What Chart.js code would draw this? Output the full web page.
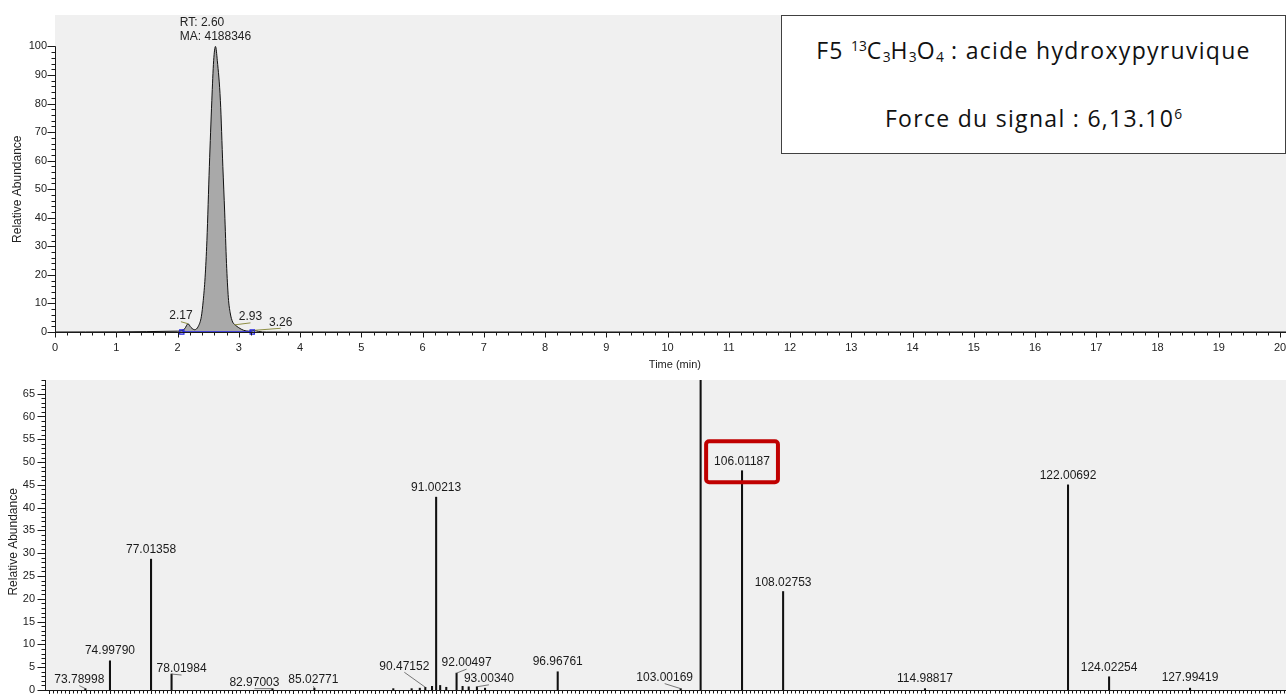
<!DOCTYPE html>
<html lang="fr">
<head>
<meta charset="utf-8">
<title>F5 acide hydroxypyruvique</title>
<script src="https://cdn.jsdelivr.net/npm/chart.js@4.4.1/dist/chart.umd.min.js"></script>
<style>
  html, body { margin: 0; padding: 0; background: #fff; width: 1286px; height: 694px; overflow: hidden; }
  #rtChart { position: absolute; left: 0; top: 0; }
  #msChart { position: absolute; left: 0; top: 375px; }
  .info {
    position: absolute; left: 781px; top: 15px; width: 505px; height: 139px;
    box-sizing: border-box; border: 1px solid #404040; background: #fff;
    font-family: "Open Sans", Lato, sans-serif; font-size: 23px; letter-spacing: 1.3px; color: #111;
  }
  .info div { position: absolute; left: 0; right: 0; text-align: center; line-height: 30px; white-space: nowrap; }
  .info .l1 { top: 19px; }
  .info .l2 { top: 87px; }
  .info sup, .info sub { font-size: 0.6em; line-height: 0; letter-spacing: 0; }
  .info sup { vertical-align: 0.6em; }
  .info sub { vertical-align: -0.25em; }
</style>
</head>
<body>
<canvas id="rtChart" width="1300" height="375"></canvas>
<canvas id="msChart" width="1300" height="330"></canvas>
<div class="info">
  <div class="l1">F5 <sup>13</sup>C<sub>3</sub>H<sub>3</sub>O<sub>4</sub> : acide hydroxypyruvique</div>
  <div class="l2">Force du signal : 6,13.10<sup>6</sup></div>
</div>
<script>
// chromatogram: time (min) vs relative abundance (%)
const rtTimes = [0, 2.0, 2.07, 2.12, 2.17, 2.22, 2.28, 2.34, 2.39, 2.42, 2.45, 2.48, 2.52, 2.56, 2.59, 2.62,
  2.65, 2.70, 2.74, 2.77, 2.80, 2.83, 2.86, 2.90, 2.94, 3.00, 3.08, 3.16, 3.22, 3.26, 3.32, 3.45, 20.3];
const rtAbundance = [0, 0.3, 0.5, 1.2, 2.9, 1.6, 0.8, 2.0, 5.5, 11, 19, 32, 58, 81, 95, 100,
  95, 81, 58, 42, 24, 12, 6.7, 3.5, 2.5, 1.5, 0.6, 0.3, 0.4, 0.6, 0.2, 0, 0];
const rtApexTime = 2.62;
const rtApexText = ["RT: 2.60", "MA: 4188346"];
const rtMinorPeaks = [2.17, 2.93, 3.26];
const rtMinorDx = [-7, 16, 26];
const rtBaseline = [2.07, 3.22];
const rtXTicks = [0, 1, 2, 3, 4, 5, 6, 7, 8, 9, 10, 11, 12, 13, 14, 15, 16, 17, 18, 19, 20];
const rtYTicks = [0, 10, 20, 30, 40, 50, 60, 70, 80, 90, 100];

// mass spectrum: m/z vs relative abundance (%)
const msMz = [73.78998, 74.99790, 77.01358, 78.01984, 82.97003, 85.02771, 88.9, 89.8, 90.2, 90.47152, 90.8,
  91.00213, 91.2, 91.5, 92.00497, 92.3, 92.6, 93.00340, 93.4, 96.96761, 103.00169, 103.98, 106.01187,
  108.02753, 114.98817, 122.00692, 124.02254, 127.99419];
const msAbundance = [0.3, 6.4, 28.7, 3.5, 0.3, 0.4, 0.3, 0.3, 0.4, 0.6, 0.8,
  42.3, 1.0, 0.6, 3.7, 0.8, 0.7, 0.7, 0.4, 4.0, 0.3, 100, 48.1,
  21.6, 0.3, 45.0, 2.9, 0.4];
const msLabelled = [73.78998, 74.99790, 77.01358, 78.01984, 82.97003, 85.02771, 90.47152, 91.00213, 92.00497,
  93.00340, 96.96761, 103.00169, 106.01187, 108.02753, 114.98817, 122.00692, 124.02254, 127.99419];
const msLabelDx = [-6, 0, 0, 10, -18, -1, -21, 0, 10, 12, 0, -16, 0, 0, 0, 0, 0, 0];
const msLabelDy = [-9, -10, -9, -5, -6, -8, -21, -9, -10, -8, -10, -11, -9, -9, -10, -9, -9, -10];
const msHighlight = 106.01187;
const msYTicks = [0, 5, 10, 15, 20, 25, 30, 35, 40, 45, 50, 55, 60, 65];

const FONT = '"Liberation Sans", Arial, sans-serif';
Chart.defaults.font.family = FONT;
Chart.defaults.font.size = 11;
Chart.defaults.color = "#222";

// fixed axis box, no extra label padding from the layout
function fixBox(size) {
  return (s) => {
    if (s.isHorizontal()) s.height = size; else s.width = size;
    s.paddingTop = 0; s.paddingBottom = 0; s.paddingLeft = 0; s.paddingRight = 0;
  };
}

// grey plot area
const plotBg = {
  id: "plotBg",
  beforeDraw(chart) {
    const { ctx, chartArea: a } = chart;
    ctx.save();
    ctx.fillStyle = "#f0f0f0";
    ctx.fillRect(a.left, a.top, a.right - a.left, a.bottom - a.top);
    ctx.restore();
  },
};

// axis lines, major/minor tick marks and rotated y title
const axesPlugin = {
  id: "axes",
  afterDatasetsDraw(chart, args, o) {
    const { ctx, chartArea: a, scales: { x, y } } = chart;
    ctx.save();
    ctx.strokeStyle = "#1a1a1a";
    ctx.lineWidth = 1;
    ctx.beginPath();
    const yb = Math.round(a.bottom) + 0.5;
    const xl = Math.round(a.left) + 0.5;
    ctx.moveTo(a.left, yb);
    ctx.lineTo(a.right, yb);
    ctx.moveTo(xl, yb);
    ctx.lineTo(xl, y.getPixelForValue(o.yTop));
    for (let i = Math.ceil(x.min / o.xMinor - 1e-6); i * o.xMinor <= x.max; i++) {
      const px = Math.round(x.getPixelForValue(i * o.xMinor)) + 0.5;
      const len = i % o.xEvery === 0 ? o.xMajorLen : o.xMinorLen;
      ctx.moveTo(px, yb);
      ctx.lineTo(px, yb + len);
    }
    for (let i = 0; i * o.yMinor <= o.yTop; i++) {
      const py = Math.round(y.getPixelForValue(i * o.yMinor)) + 0.5;
      const len = i % o.yEvery === 0 ? o.yMajorLen : o.yMinorLen;
      ctx.moveTo(xl, py);
      ctx.lineTo(xl - len, py);
    }
    ctx.stroke();

    ctx.translate(o.titleX, (y.getPixelForValue(0) + y.getPixelForValue(o.titleTop)) / 2);
    ctx.rotate(-Math.PI / 2);
    ctx.font = "12px " + FONT;
    ctx.fillStyle = "#222";
    ctx.textAlign = "center";
    ctx.textBaseline = "middle";
    ctx.fillText("Relative Abundance", 0, 0);
    ctx.restore();
  },
};

function rtValueAt(t) {
  let best = 0;
  rtTimes.forEach((v, i) => { if (Math.abs(v - t) < Math.abs(rtTimes[best] - t)) best = i; });
  return rtAbundance[best];
}

const rtLabels = {
  id: "rtLabels",
  afterDatasetsDraw(chart) {
    const { ctx, scales: { x, y } } = chart;
    ctx.save();
    ctx.font = "12px " + FONT;
    ctx.fillStyle = "#222";
    ctx.textBaseline = "middle";

    const ax = x.getPixelForValue(rtApexTime);
    const ay = y.getPixelForValue(rtValueAt(rtApexTime));
    const w = Math.max(...rtApexText.map((t) => ctx.measureText(t).width));
    ctx.textAlign = "left";
    rtApexText.forEach((t, i) => {
      ctx.fillText(t, ax - w / 2, ay - 10 - (rtApexText.length - 1 - i) * 13.7);
    });

    ctx.textAlign = "center";
    rtMinorPeaks.forEach((t, i) => {
      const px = x.getPixelForValue(t);
      const py = y.getPixelForValue(rtValueAt(t));
      const lx = px + rtMinorDx[i];
      const ly = py - 8;
      ctx.fillText(t.toFixed(2), lx, ly);
      ctx.strokeStyle = "#8f8f45";
      ctx.lineWidth = 1;
      ctx.beginPath();
      ctx.moveTo(px, py);
      ctx.lineTo(lx, ly + 6);
      ctx.stroke();
    });
    ctx.restore();
  },
};

const msLabels = {
  id: "msLabels",
  afterDatasetsDraw(chart) {
    const { ctx, scales: { x, y } } = chart;
    ctx.save();
    ctx.font = "12px " + FONT;
    ctx.fillStyle = "#1a1a1a";
    ctx.textAlign = "center";
    ctx.textBaseline = "middle";
    msLabelled.forEach((m, i) => {
      const idx = msMz.indexOf(m);
      const px = x.getPixelForValue(m);
      const py = y.getPixelForValue(msAbundance[idx]);
      const lx = px + msLabelDx[i];
      const ly = py + msLabelDy[i];
      const text = m.toFixed(5);
      ctx.fillText(text, lx, ly);
      if (msLabelDx[i] !== 0) {
        ctx.strokeStyle = "#555";
        ctx.lineWidth = 0.8;
        ctx.beginPath();
        ctx.moveTo(lx, ly + 6);
        ctx.lineTo(px, py);
        ctx.stroke();
      }
      if (m === msHighlight) {
        const hw = ctx.measureText(text).width / 2 + 8;
        ctx.strokeStyle = "#c00000";
        ctx.lineWidth = 4;
        ctx.beginPath();
        ctx.roundRect(lx - hw, ly - 20.5, hw * 2, 41, 3);
        ctx.stroke();
      }
    });
    ctx.restore();
  },
};

new Chart(document.getElementById("rtChart"), {
  type: "line",
  data: {
    datasets: [
      {
        data: rtBaseline.map((t) => ({ x: t, y: 0 })),
        borderColor: "#2020e0",
        borderWidth: 1.5,
        pointStyle: "rect",
        pointRadius: 3,
        pointBorderColor: "#2020e0",
        pointBackgroundColor: "rgba(0,0,0,0)",
        pointBorderWidth: 1.2,
        clip: 6,
      },
      {
        data: rtTimes.map((t, i) => ({ x: t, y: rtAbundance[i] })),
        borderColor: "#111",
        borderWidth: 1,
        backgroundColor: "#a9a9a9",
        fill: "origin",
        pointRadius: 0,
        cubicInterpolationMode: "monotone",
        clip: 4,
      },
    ],
  },
  options: {
    responsive: false,
    animation: false,
    layout: { padding: { top: 15, left: 0, right: 0, bottom: 0 } },
    plugins: {
      legend: { display: false },
      tooltip: { enabled: false },
      axes: {
        xMinor: 0.2, xEvery: 5, xMajorLen: 5, xMinorLen: 3,
        yMinor: 2, yEvery: 5, yMajorLen: 8, yMinorLen: 4,
        yTop: 100, titleTop: 100, titleX: 18,
      },
    },
    scales: {
      x: {
        type: "linear",
        min: 0,
        max: 20.24,
        afterFit: fixBox(43),
        afterBuildTicks: (s) => { s.ticks = rtXTicks.map((v) => ({ value: v })); },
        grid: { display: false, drawTicks: false },
        border: { display: false },
        ticks: { padding: 9, maxRotation: 0, autoSkip: false },
        title: { display: true, text: "Time (min)", font: { size: 11 }, padding: { top: 0, bottom: 3 } },
      },
      y: {
        min: 0,
        max: 111,
        afterFit: fixBox(55),
        afterBuildTicks: (s) => { s.ticks = rtYTicks.map((v) => ({ value: v })); },
        grid: { display: false, drawTicks: false },
        border: { display: false },
        ticks: { padding: 8, autoSkip: false },
      },
    },
  },
  plugins: [plotBg, axesPlugin, rtLabels],
});

new Chart(document.getElementById("msChart"), {
  type: "bar",
  data: {
    datasets: [
      {
        data: msMz.map((m, i) => ({ x: m, y: msAbundance[i] })),
        backgroundColor: "#111",
        barThickness: 1.4,
      },
    ],
  },
  options: {
    responsive: false,
    animation: false,
    layout: { padding: { top: 5, left: 0, right: 0, bottom: 0 } },
    plugins: {
      legend: { display: false },
      tooltip: { enabled: false },
      axes: {
        xMinor: 0.2, xEvery: 5, xMajorLen: 5, xMinorLen: 3,
        yMinor: 1, yEvery: 5, yMajorLen: 8, yMinorLen: 4,
        yTop: 68, titleTop: 65, titleX: 14,
      },
    },
    scales: {
      x: {
        type: "linear",
        offset: false,
        min: 71.81,
        max: 133.39,
        afterFit: fixBox(15),
        grid: { display: false, drawTicks: false, offset: false },
        border: { display: false },
        ticks: { display: false },
      },
      y: {
        min: 0,
        max: 68,
        afterFit: fixBox(45),
        afterBuildTicks: (s) => { s.ticks = msYTicks.map((v) => ({ value: v })); },
        grid: { display: false, drawTicks: false },
        border: { display: false },
        ticks: { padding: 10, autoSkip: false },
      },
    },
  },
  plugins: [plotBg, axesPlugin, msLabels],
});
</script>
</body>
</html>
